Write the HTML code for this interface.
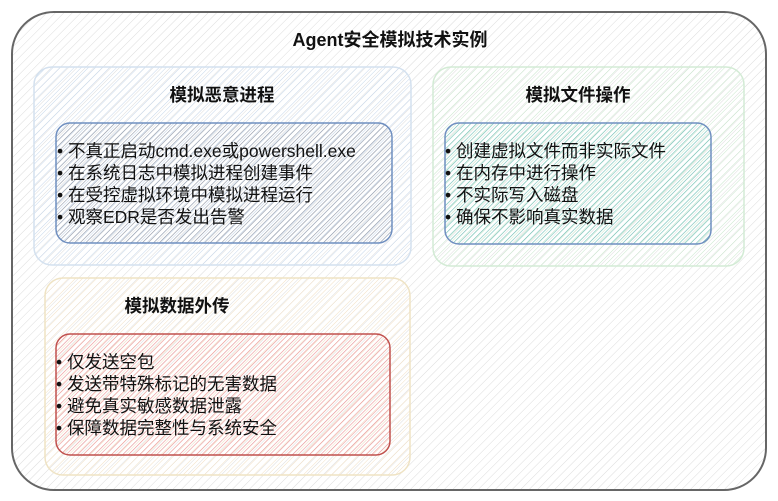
<!DOCTYPE html>
<html><head><meta charset="utf-8"><style>
html,body{margin:0;padding:0;background:#fff;}
svg{display:block;}
text{font-family:"Liberation Sans","Noto Sans CJK SC",sans-serif;fill:#111;}
.t{font-weight:bold;font-size:18px;}
.s{font-weight:bold;font-size:17.5px;}
.b{font-size:17.5px;}
</style></head><body>
<svg width="778" height="501" viewBox="0 0 778 501" xmlns="http://www.w3.org/2000/svg">
<defs>
<pattern id="hg" width="6" height="6" patternUnits="userSpaceOnUse" patternTransform="rotate(45)"><line x1="0" y1="0" x2="0" y2="6" stroke="#dcdcdc" stroke-width="1"/></pattern>
<pattern id="hb" width="5" height="5" patternUnits="userSpaceOnUse" patternTransform="rotate(45)"><line x1="0" y1="0" x2="0" y2="5" stroke="#c5d6ea" stroke-width="1"/></pattern>
<pattern id="hbi" width="4" height="4" patternUnits="userSpaceOnUse" patternTransform="rotate(45)"><line x1="0" y1="0" x2="0" y2="4" stroke="#9098a8" stroke-width="1.2"/></pattern>
<pattern id="hgr" width="5" height="5" patternUnits="userSpaceOnUse" patternTransform="rotate(45)"><line x1="0" y1="0" x2="0" y2="5" stroke="#c8e6cb" stroke-width="1"/></pattern>
<pattern id="hgi" width="4" height="4" patternUnits="userSpaceOnUse" patternTransform="rotate(45)"><line x1="0" y1="0" x2="0" y2="4" stroke="#6fc0b6" stroke-width="1.2"/></pattern>
<pattern id="hy" width="5" height="5" patternUnits="userSpaceOnUse" patternTransform="rotate(45)"><line x1="0" y1="0" x2="0" y2="5" stroke="#f2e0c4" stroke-width="1"/></pattern>
<pattern id="hr" width="4" height="4" patternUnits="userSpaceOnUse" patternTransform="rotate(45)"><line x1="0" y1="0" x2="0" y2="4" stroke="#ec9595" stroke-width="1.2"/></pattern>
</defs>
<rect x="12" y="12" width="754" height="478" rx="42" fill="url(#hg)" stroke="#666" stroke-width="2"/>
<text class="t" x="390" y="46" text-anchor="middle">Agent安全模拟技术实例</text>

<rect x="34" y="67" width="377" height="198" rx="18" fill="url(#hb)" stroke="#d4e1ef" stroke-width="1.5"/>
<text class="s" x="222" y="101" text-anchor="middle">模拟恶意进程</text>
<rect x="56" y="123" width="336" height="120" rx="14" fill="url(#hbi)" stroke="#6f8fc0" stroke-width="1.5"/>
<text class="b" x="57" y="157">• 不真正启动cmd.exe或powershell.exe</text>
<text class="b" x="57" y="179">• 在系统日志中模拟进程创建事件</text>
<text class="b" x="57" y="201">• 在受控虚拟环境中模拟进程运行</text>
<text class="b" x="57" y="223">• 观察EDR是否发出告警</text>

<rect x="433" y="67" width="311" height="199" rx="18" fill="url(#hgr)" stroke="#d3ebd5" stroke-width="1.5"/>
<text class="s" x="578" y="101" text-anchor="middle">模拟文件操作</text>
<rect x="445" y="123" width="266" height="121" rx="14" fill="url(#hgi)" stroke="#6f8fc0" stroke-width="1.5"/>
<text class="b" x="445" y="157">• 创建虚拟文件而非实际文件</text>
<text class="b" x="445" y="179">• 在内存中进行操作</text>
<text class="b" x="445" y="201">• 不实际写入磁盘</text>
<text class="b" x="445" y="223">• 确保不影响真实数据</text>

<rect x="45" y="278" width="365" height="197" rx="18" fill="url(#hy)" stroke="#efe3c4" stroke-width="1.5"/>
<text class="s" x="177" y="312" text-anchor="middle">模拟数据外传</text>
<rect x="56" y="334" width="334" height="121" rx="14" fill="url(#hr)" stroke="#c0504d" stroke-width="1.5"/>
<text class="b" x="56" y="368">• 仅发送空包</text>
<text class="b" x="56" y="390">• 发送带特殊标记的无害数据</text>
<text class="b" x="56" y="412">• 避免真实敏感数据泄露</text>
<text class="b" x="56" y="434">• 保障数据完整性与系统安全</text>
</svg>
</body></html>
